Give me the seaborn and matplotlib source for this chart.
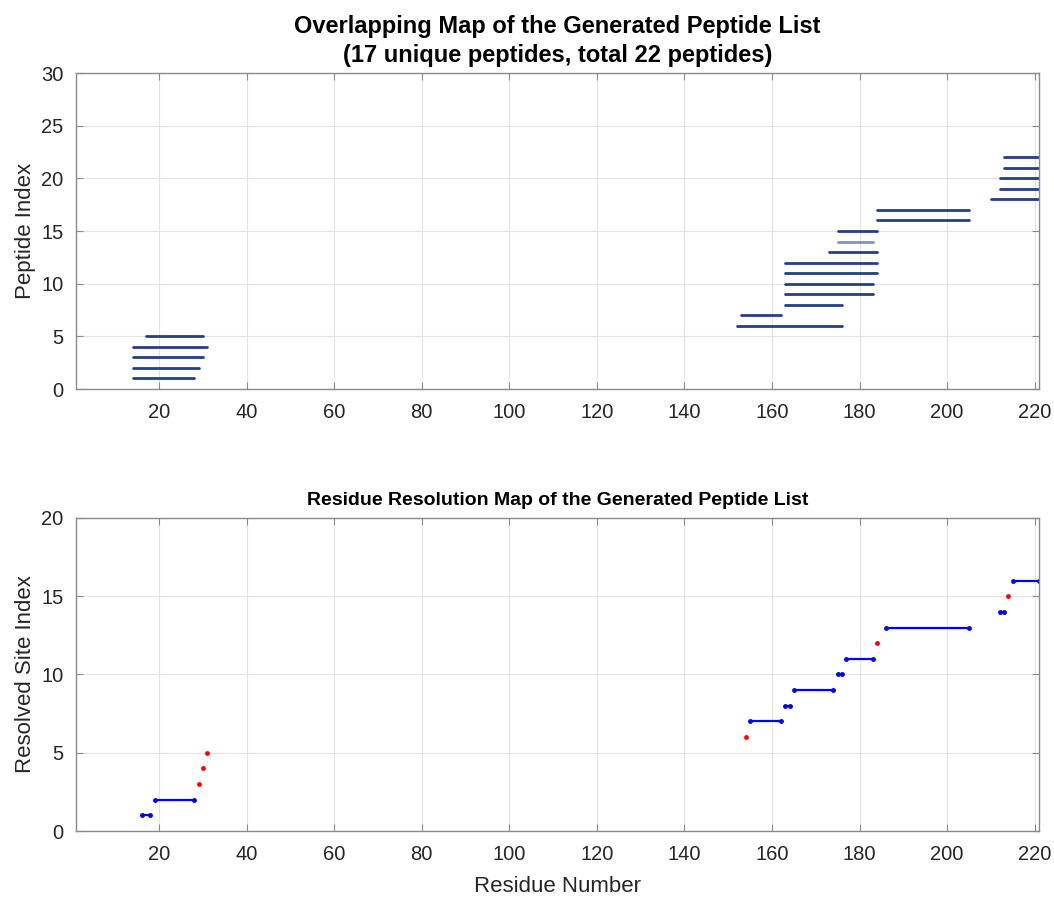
import matplotlib
matplotlib.use("Agg")
import matplotlib.pyplot as plt
import seaborn as sns
import pandas as pd

# ---- Data ----
pep_start = [14, 14, 14, 14, 17, 152, 153, 163, 163, 163, 163, 163, 173, 175, 175, 184, 184, 210, 212, 212, 213, 213]
pep_end   = [28, 29, 30, 31, 30, 176, 162, 176, 183, 183, 184, 184, 184, 183, 184, 205, 205, 221, 221, 221, 221, 221]
pep_shade = ["dark"] * 13 + ["light"] + ["dark"] * 8

site_start = [16, 19, 29, 30, 31, 154, 155, 163, 165, 175, 177, 184, 186, 212, 214, 215]
site_end   = [18, 28, 29, 30, 31, 154, 162, 164, 174, 176, 183, 184, 205, 213, 214, 221]

n_unique = 17
n_total = 22
x_ticks = list(range(20, 221, 20))

# ---- Long tables ----
rows = []
for i, (s, e, sh) in enumerate(zip(pep_start, pep_end, pep_shade), start=1):
    rows.append({"pid": i, "residue": s, "index": i, "shade": sh})
    rows.append({"pid": i, "residue": e, "index": i, "shade": sh})
pep_df = pd.DataFrame(rows)

seg_rows, single_rows = [], []
for i, (s, e) in enumerate(zip(site_start, site_end), start=1):
    if s == e:
        single_rows.append({"residue": s, "index": i})
    else:
        seg_rows.append({"sid": i, "residue": s, "index": i})
        seg_rows.append({"sid": i, "residue": e, "index": i})
seg_df = pd.DataFrame(seg_rows)
single_df = pd.DataFrame(single_rows)

# ---- Style ----
sns.set_theme(style="whitegrid")
plt.rcParams["font.family"] = ["Liberation Sans", "DejaVu Sans"]
plt.rcParams["xtick.direction"] = "in"
plt.rcParams["ytick.direction"] = "in"

fig = plt.figure(figsize=(10.54, 8.98), dpi=100)
ax1 = fig.add_axes([0.0721, 0.5668, 0.9137, 0.3519])
ax2 = fig.add_axes([0.0721, 0.0746, 0.9137, 0.3486])

sns.lineplot(data=pep_df, x="residue", y="index", units="pid", estimator=None,
             hue="shade", palette={"dark": "#243f85", "light": "#8494c2"},
             linewidth=2.0, legend=False, ax=ax1)

sns.lineplot(data=seg_df, x="residue", y="index", units="sid", estimator=None,
             color="#0000ff", linewidth=1.6, marker="o", markersize=3.5,
             markeredgewidth=0, legend=False, ax=ax2)
sns.scatterplot(data=single_df, x="residue", y="index", color="#ff0000",
                s=12, linewidth=0, legend=False, ax=ax2)

for ax, ymax, yl in [(ax1, 30, "Peptide Index"), (ax2, 20, "Resolved Site Index")]:
    ax.set_xlim(1, 221)
    ax.set_ylim(0, ymax)
    ax.set_xticks(x_ticks)
    ax.set_yticks(list(range(0, ymax + 1, 5)))
    ax.grid(True, color="#e3e3e3", linewidth=0.8)
    for sp in ax.spines.values():
        sp.set_visible(True)
        sp.set_color("#8a8a8a")
        sp.set_linewidth(1.0)
    ax.tick_params(axis="both", which="both", labelsize=14.5, colors="#8a8a8a",
                   labelcolor="#262626", length=5, width=0.8,
                   top=True, right=True, bottom=True, left=True)
    ax.tick_params(axis="x", pad=10)
    ax.tick_params(axis="y", pad=9)
    ax.set_ylabel(yl, fontsize=16, color="#262626", labelpad=4)
    ax.set_facecolor("white")

ax1.set_xlabel("")
ax2.set_xlabel("Residue Number", fontsize=16, color="#262626", labelpad=9)

ax1.set_title("Overlapping Map of the Generated Peptide List\n"
              f"({n_unique} unique peptides, total {n_total} peptides)",
              fontsize=17, fontweight="bold", color="black", pad=8,
              linespacing=1.35)
ax2.set_title("Residue Resolution Map of the Generated Peptide List",
              fontsize=14, fontweight="bold", color="black", pad=9)

fig.savefig("out.png", dpi=100, facecolor="white")
